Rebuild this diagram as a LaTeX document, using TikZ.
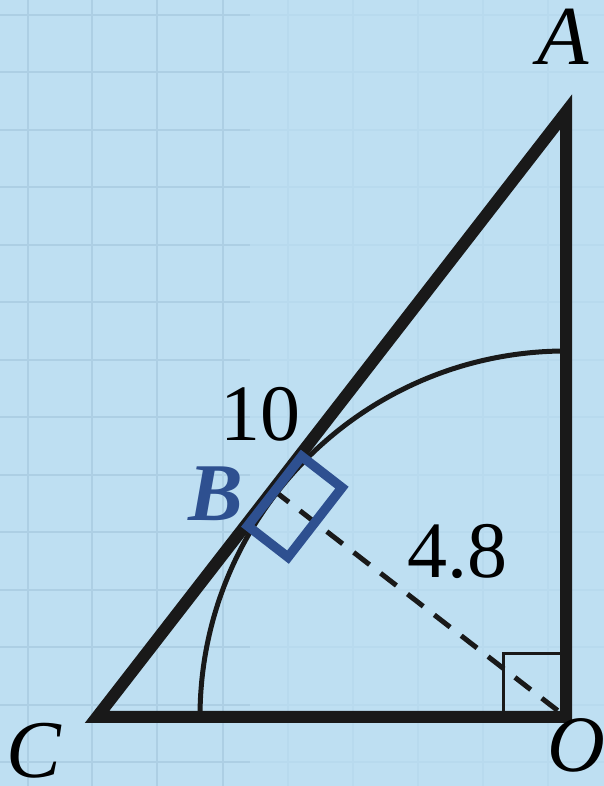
\documentclass[tikz,border=0pt]{standalone}
\usepackage{fontspec}
\setmainfont{Liberation Serif}
\usetikzlibrary{calc}
\begin{document}
\begin{tikzpicture}[x=1pt,y=1pt,
  tri/.style={line width=12pt, line join=miter, color=black!90},
  arcline/.style={line width=5pt, color=black!90},
  dashline/.style={line width=5pt, dash pattern=on 20pt off 14pt, color=black!90},
  rightmark/.style={line width=3pt, color=black!90},
  bluebox/.style={line width=9.5pt, color=bblue, line join=miter},
  gridline/.style={gridc, line width=1.5pt},
  gridfaint/.style={gridf, line width=1.5pt},
  lbl/.style={font=\fontsize{84}{84}\selectfont\itshape, inner sep=0pt},
  num/.style={font=\fontsize{80}{80}\selectfont, inner sep=0pt}]
\definecolor{bg}{HTML}{BEDFF2}
\definecolor{gridc}{HTML}{ADCFE4}
\definecolor{gridf}{HTML}{B8DAEE}
\definecolor{bblue}{HTML}{2E5090}
\fill[bg] (0,0) rectangle (604,786);
\useasboundingbox (0,0) rectangle (604,786);
\foreach \gx in {28,92,157,223} \draw[gridline] (\gx,0) -- (\gx,786);
\foreach \gx in {288,353,418,483,548} \draw[gridfaint] (\gx,0) -- (\gx,786);
\foreach \gy in {771,714,656,599,541,484,426,369,311,254,196,139,81,24} {
  \draw[gridline] (0,\gy) -- (250,\gy);
  \draw[gridfaint] (250,\gy) -- (604,\gy);
}
\coordinate (O) at (566,69);
\coordinate (A) at (566,674);
\coordinate (C) at (97,69);
\coordinate (B) at (273.1,296.1);
% arc
\draw[arcline] (O) ++(0,366) arc[start angle=90, end angle=180, radius=366];
% dashed altitude
\draw[dashline] (B) -- (O);
% right angle mark
\draw[rightmark] ($(O)+(-63,0)$) -- ++(0,63) -- ++(63,0);
% triangle
\draw[tri] (C) -- (A) -- (O) -- cycle;
% blue rectangle at B
\begin{scope}[shift={(B)}, rotate=52.2]
\draw[bluebox] (-44,-2) rectangle (44,-53);
\end{scope}
% labels
\node[lbl] (lA) at (563,749) {A};
\node[lbl, font=\fontsize{82}{82}\selectfont\itshape] (lC) at (34,35) {C};
\node[lbl, font=\fontsize{80}{80}\selectfont\itshape] (lO) at (576,41) {O};
\node[lbl, font=\fontsize{82}{82}\selectfont\bfseries\itshape, text=bblue] (lB) at (216,292) {B};
\node[num] (l10) at (260,372) {10};
\node[num] (l48) at (457,235) {4.8};
\end{tikzpicture}
\end{document}
